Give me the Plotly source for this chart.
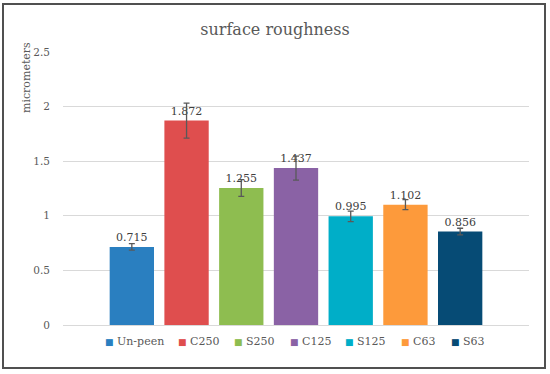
import plotly.graph_objects as go

names = ["Un-peen", "C250", "S250", "C125", "S125", "C63", "S63"]
values = [0.715, 1.872, 1.255, 1.437, 0.995, 1.102, 0.856]
errors = [0.03, 0.16, 0.077, 0.11, 0.048, 0.046, 0.03]
colors = ["#2a7fc0", "#df4e4e", "#8ebd50", "#8a62a5", "#00aec8", "#fd9a3b", "#064b75"]
yticks = [0, 0.5, 1, 1.5, 2, 2.5]
ytick_labels = ["0", "0.5", "1", "1.5", "2", "2.5"]

FONT = "DejaVu Serif"
fig = go.Figure()
for n, v, e, c in zip(names, values, errors, colors):
    fig.add_trace(go.Bar(
        x=["surface roughness"], y=[v], name=n,
        marker=dict(color=c, line=dict(width=0)),
        error_y=dict(type="data", array=[e], visible=True, color="#595959", thickness=1.3, width=3),
        text=[f"{v:.3f}"], textposition="outside", cliponaxis=False,
        textfont=dict(family=FONT, size=11, color="#404040"),
        showlegend=False,
    ))

L, R, T, B = 63, 21, 52, 49
W, H = 550, 374
pw, ph = W - L - R, H - T - B

def px(x):
    return (x - L) / pw

def py(y):
    return (H - B - y) / ph

legend_x = [103, 176, 232, 288, 343, 399, 449]
annotations = [dict(text="micrometers", textangle=-90, x=px(26), y=py(78), xref="paper", yref="paper",
                    showarrow=False, xanchor="center", yanchor="middle",
                    font=dict(family=FONT, size=11, color="#595959"))]
for n, c, lx in zip(names, colors, legend_x):
    annotations.append(dict(
        text=f"<span style='color:{c};font-family:DejaVu Sans;font-size:9px'>■</span> {n}",
        x=px(lx), y=py(341), xref="paper", yref="paper", showarrow=False,
        xanchor="left", yanchor="middle",
        font=dict(family=FONT, size=11, color="#595959")))

fig.update_layout(
    width=W, height=H,
    margin=dict(l=L, r=R, t=T, b=B, pad=0),
    paper_bgcolor="white", plot_bgcolor="white",
    barmode="group", bargap=0.178, bargroupgap=0.19,
    font=dict(family=FONT, size=11, color="#595959"),
    title=dict(text="surface roughness", x=0.5, xref="container", xanchor="center",
               y=1 - 29 / H, yref="container", yanchor="middle",
               font=dict(family=FONT, size=16, color="#595959")),
    xaxis=dict(showticklabels=False, showgrid=False, zeroline=False, showline=False, ticks=""),
    yaxis=dict(range=[0, 2.5], tickvals=yticks, ticktext=ytick_labels,
               showgrid=True, gridcolor="#d9d9d9", gridwidth=1, zeroline=True, zerolinecolor="#d9d9d9",
               zerolinewidth=1, showline=False, ticks="", ticklabelstandoff=12,
               tickfont=dict(family=FONT, size=10.5, color="#595959")),
    showlegend=False,
    annotations=annotations,
    shapes=[dict(type="rect", xref="paper", yref="paper", x0=px(3), x1=px(545), y0=py(368), y1=py(4),
                 line=dict(color="#505050", width=2), fillcolor="rgba(0,0,0,0)", layer="below")],
)

fig.write_html("out.html", config={"displayModeBar": False},
               post_script="document.body.style.margin='0';document.body.style.overflow='hidden';")
